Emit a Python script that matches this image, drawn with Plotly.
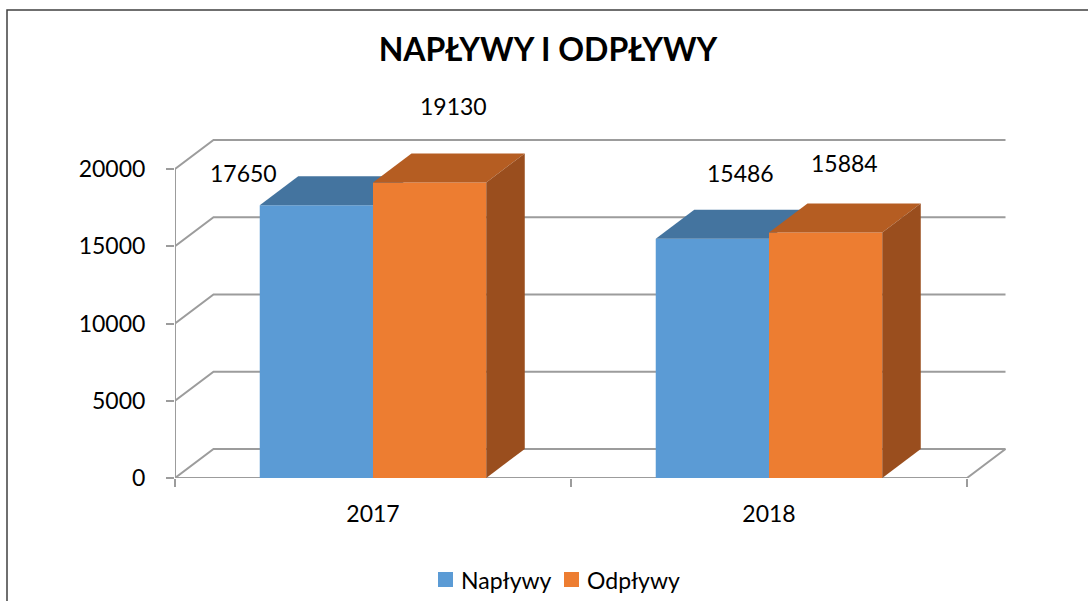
import plotly.graph_objects as go

# ---------------- data ----------------
categories = ["2017", "2018"]
naplywy = [17650, 15486]
odplywy = [19130, 15884]
series_names = ["Napływy", "Odpływy"]
y_ticks = [0, 5000, 10000, 15000, 20000]
title_text = "NAPŁYWY I ODPŁYWY"

# ---------------- styling / geometry ----------------
FONT = "Lato"
W, H = 1088, 601
PL, PR, PT, PB = 175, 1010, 130, 478          # plot area in pixels
PX_CAT = 396.0                                 # pixels per category
PX_VAL = 0.01545                               # pixels per value unit
X0 = -0.5
XR = [X0, X0 + (PR - PL) / PX_CAT]
YR = [0, (PB - PT) / PX_VAL]
DX = 38.5 / PX_CAT                             # 3D depth in x units
DY = 29.0 / PX_VAL                             # 3D depth in y units
BW = 0.286                                     # bar width (category units)

BLUE_FRONT, BLUE_TOP = "#5B9BD5", "#44749F"
OR_FRONT, OR_TOP, OR_SIDE = "#ED7D31", "#B55D22", "#9A4E1E"
GRID = "#9C9C9C"
series_colors = [BLUE_FRONT, OR_FRONT]

xs = list(range(len(categories)))
pw, ph = PR - PL, PB - PT

def px_x(p):  # pixel -> paper x
    return (p - PL) / pw

def px_y(p):  # pixel -> paper y
    return (PB - p) / ph

fig = go.Figure()

def faces(vals, offset, top_col, side_col, xa, ya, draw_side):
    for xi, v in zip(xs, vals):
        x0 = xi + offset
        x1 = x0 + BW
        fig.add_trace(go.Scatter(
            x=[x0, x0 + DX, x1 + DX, x1, x0],
            y=[v, v + DY, v + DY, v, v],
            fill="toself", fillcolor=top_col, mode="lines",
            line=dict(width=0, color=top_col), hoverinfo="skip",
            showlegend=False, xaxis=xa, yaxis=ya))
        if draw_side:
            fig.add_trace(go.Scatter(
                x=[x1, x1 + DX, x1 + DX, x1, x1],
                y=[v, v + DY, DY, 0, v],
                fill="toself", fillcolor=side_col, mode="lines",
                line=dict(width=0, color=side_col), hoverinfo="skip",
                showlegend=False, xaxis=xa, yaxis=ya))

# Napływy (blue) on first subplot
fig.add_trace(go.Bar(x=xs, y=naplywy, width=BW, offset=-BW, name=series_names[0],
                     marker=dict(color=BLUE_FRONT, line=dict(width=0)),
                     showlegend=False, xaxis="x", yaxis="y"))
faces(naplywy, -BW, BLUE_TOP, BLUE_TOP, "x", "y", False)

# Odpływy (orange) on overlaying subplot, drawn above
fig.add_trace(go.Bar(x=xs, y=odplywy, width=BW, offset=0, name=series_names[1],
                     marker=dict(color=OR_FRONT, line=dict(width=0)),
                     showlegend=False, xaxis="x2", yaxis="y2"))
faces(odplywy, 0, OR_TOP, OR_SIDE, "x2", "y2", True)

# ---------------- walls / gridlines ----------------
shapes = []
xl, xr_ = X0, X0 + len(categories)
for t in y_ticks:
    path = f"M{xl},{t} L{xl + DX},{t + DY} L{xr_ + DX},{t + DY}"
    shapes.append(dict(type="path", path=path, xref="x", yref="y",
                       line=dict(color=GRID, width=2), layer="below"))
# floor front & right edge
shapes.append(dict(type="path",
                   path=f"M{xl},0 L{xr_},0 L{xr_ + DX},{DY}",
                   xref="x", yref="y", line=dict(color=GRID, width=2), layer="below"))
# front vertical axis line
shapes.append(dict(type="line", x0=xl, x1=xl, y0=0, y1=max(y_ticks),
                   xref="x", yref="y", line=dict(color=GRID, width=2), layer="below"))
# chart border
shapes.append(dict(type="rect", xref="paper", yref="paper",
                   x0=px_x(7), x1=px_x(1120), y0=px_y(640), y1=px_y(10),
                   line=dict(color="#404040", width=1.5), fillcolor="rgba(0,0,0,0)",
                   layer="below"))

# ---------------- data labels ----------------
label_shift = {  # (xshift, yshift) in pixels, relative to front-top centre of bar
    (0, 0): (-73, 32), (0, 1): (28, 66),
    (1, 0): (24, 76), (1, 1): (19, 70),
}
annotations = []
for si, (vals, off) in enumerate([(naplywy, -BW), (odplywy, 0)]):
    for xi, v in zip(xs, vals):
        sx, sy = label_shift[(si, xi)]
        annotations.append(dict(x=xi + off + BW / 2, y=v, xref="x", yref="y",
                                text=str(v), showarrow=False, xshift=sx, yshift=sy,
                                font=dict(family=FONT, size=23, color="#000000")))

# ---------------- legend (drawn) ----------------
legend_sq_left = [438, 564]   # pixel positions of legend swatches
LEG_Y, SQ = 579.5, 15
for name, col, lx in zip(series_names, series_colors, legend_sq_left):
    shapes.append(dict(type="rect", xref="paper", yref="paper",
                       x0=px_x(lx), x1=px_x(lx + SQ),
                       y0=px_y(LEG_Y + SQ / 2), y1=px_y(LEG_Y - SQ / 2),
                       line=dict(width=0), fillcolor=col))
    annotations.append(dict(x=px_x(lx + SQ + 6), y=px_y(LEG_Y), xref="paper", yref="paper",
                            text=name, showarrow=False, xanchor="left", yanchor="middle",
                            font=dict(family=FONT, size=23, color="#000000")))

fig.update_layout(
    template="none",
    width=W, height=H,
    margin=dict(l=PL, r=W - PR, t=PT, b=H - PB, pad=0, autoexpand=False),
    paper_bgcolor="white", plot_bgcolor="rgba(0,0,0,0)",
    font=dict(family=FONT, size=23, color="#000000"),
    title=dict(text=f"<b>{title_text}</b>", x=548 / W, xref="container", xanchor="center",
               y=1 - 50 / H, yref="container", yanchor="middle",
               font=dict(family=FONT, size=32, color="#000000")),
    showlegend=False,
    xaxis=dict(range=XR, tickvals=xs, ticktext=categories, ticks="", showgrid=False,
               zeroline=False, showline=False, ticklabelstandoff=20, automargin=False,
               tickfont=dict(family=FONT, size=23, color="#000000"),
               minor=dict(tickvals=[xl + i for i in range(len(categories) + 1)],
                          ticks="outside", ticklen=8, tickwidth=2, tickcolor=GRID,
                          showgrid=False)),
    yaxis=dict(range=YR, tickvals=y_ticks, ticktext=[str(t) for t in y_ticks],
               ticks="outside", ticklen=8, tickwidth=2, automargin=False,
               tickcolor=GRID, showgrid=False, zeroline=False, showline=False,
               ticklabelstandoff=16,
               tickfont=dict(family=FONT, size=23, color="#000000")),
    xaxis2=dict(range=XR, overlaying="x", visible=False, showgrid=False, zeroline=False),
    yaxis2=dict(range=YR, overlaying="y", visible=False, showgrid=False, zeroline=False),
    shapes=shapes,
    annotations=annotations,
)

fig.write_html("out.html", config={"displayModeBar": False},
               post_script="document.body.style.margin='0';document.body.style.overflow='hidden';")
